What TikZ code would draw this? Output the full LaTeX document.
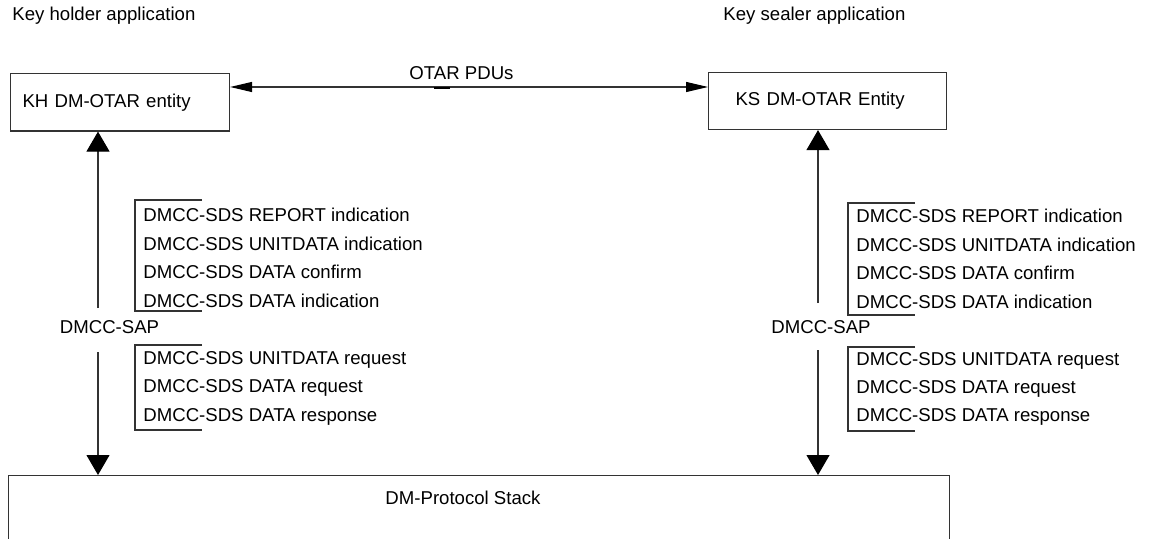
\documentclass[tikz,border=0pt]{standalone}
\usepackage{fontspec}
\setmainfont{Liberation Sans}
\usetikzlibrary{arrows.meta}
\begin{document}
\begin{tikzpicture}[x=0.5pt,y=-0.5pt,
  every node/.style={font=\fontsize{9.3}{11}\selectfont, inner sep=0pt},
  ln/.style={draw=black!80, line width=0.55pt},
  bigtip/.style={-{Triangle[length=10pt,width=11.5pt,color=black]}},
  smalltip/.style={{Triangle[length=11pt,width=5pt,color=black]}-{Triangle[length=11pt,width=5pt,color=black]}},
  entity/.style={ln, align=left, minimum height=28.75pt, anchor=north west},
  lbl/.style={anchor=west},
  brk/.style={ln}]
\useasboundingbox (0,0) rectangle (1154,539);
% top labels
\node[lbl] (khapp) at (12,16) {Key holder application};
\node[lbl] (ksapp) at (723,16) {Key sealer application};
% entity boxes
\node[entity, text width=97.5pt, inner xsep=6pt] (kh) at (10,73) {KH DM-OTAR entity};
\node[entity, text width=92pt, inner xsep=13.5pt, minimum height=28.5pt] (ks) at (708,72) {KS DM-OTAR Entity};
% OTAR PDUs
\draw[ln, smalltip] (kh.east |- 0,87) -- (ks.west |- 0,87);
\node (otar) at (461.5,73) {OTAR PDUs};
\draw[black, line width=1.4pt] (434,88) -- (450,88);
% stack
\node[ln, anchor=north west, minimum width=470.5pt, minimum height=50pt] (stack) at (8,475) {};
\node (stacklbl) at (463,498) {DM-Protocol Stack};
% left SAP
\coordinate (lu) at (98,308);
\coordinate (ld) at (98,352);
\draw[ln, bigtip] (lu) -- (lu |- kh.south);
\draw[ln, bigtip] (ld) -- (ld |- stack.north);
\node (lsap) at (109.5,327) {DMCC-SAP};
\draw[brk] (202,200) -- (135,200) -- (135,311) -- (202,311);
\draw[brk] (202,345) -- (135,345) -- (135,430) -- (202,430);
\node[lbl] (l1) at (143,215) {DMCC-SDS REPORT indication};
\node[lbl] (l2) at (143,244) {DMCC-SDS UNITDATA indication};
\node[lbl] (l3) at (143,272) {DMCC-SDS DATA confirm};
\node[lbl] (l4) at (143,301) {DMCC-SDS DATA indication};
\node[lbl] (l5) at (143,360) {DMCC-SDS UNITDATA request};
\node[lbl] (l6) at (143,388) {DMCC-SDS DATA request};
\node[lbl] (l7) at (143,417) {DMCC-SDS DATA response};
% right SAP
\coordinate (ru) at (818,303);
\coordinate (rd) at (818,350);
\draw[ln, bigtip] (ru) -- (ru |- ks.south);
\draw[ln, bigtip] (rd) -- (rd |- stack.north);
\node (rsap) at (821,327) {DMCC-SAP};
\draw[brk] (915,203) -- (848,203) -- (848,315) -- (915,315);
\draw[brk] (915,347) -- (848,347) -- (848,431) -- (915,431);
\node[lbl] (r1) at (856,216) {DMCC-SDS REPORT indication};
\node[lbl] (r2) at (856,245) {DMCC-SDS UNITDATA indication};
\node[lbl] (r3) at (856,273) {DMCC-SDS DATA confirm};
\node[lbl] (r4) at (856,302) {DMCC-SDS DATA indication};
\node[lbl] (r5) at (856,361) {DMCC-SDS UNITDATA request};
\node[lbl] (r6) at (856,389) {DMCC-SDS DATA request};
\node[lbl] (r7) at (856,417) {DMCC-SDS DATA response};
\end{tikzpicture}
\end{document}
